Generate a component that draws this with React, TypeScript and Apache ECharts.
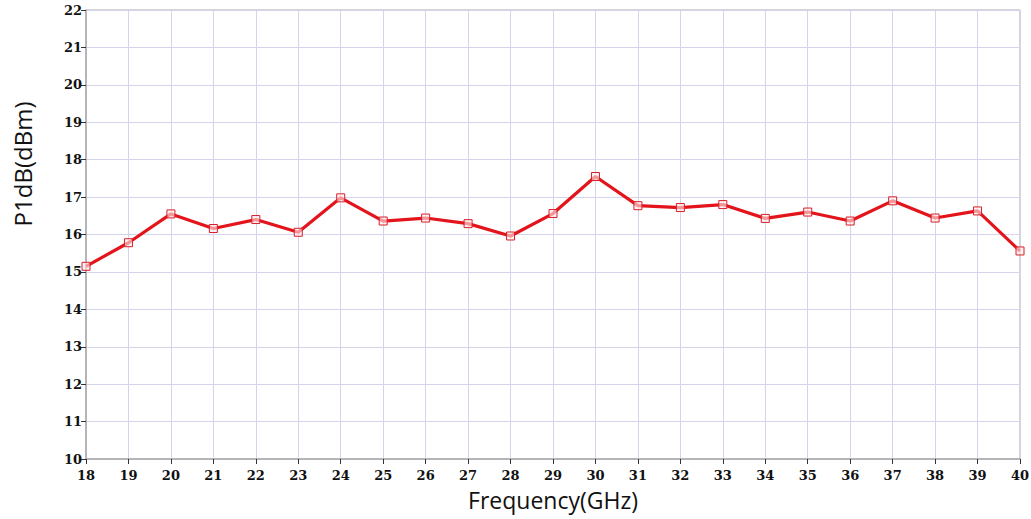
import React, { useEffect, useRef } from "react";
import * as echarts from "echarts";

const frequencies = [18, 19, 20, 21, 22, 23, 24, 25, 26, 27, 28, 29, 30, 31, 32, 33, 34, 35, 36, 37, 38, 39, 40];
const p1db = [15.15, 15.78, 16.55, 16.16, 16.4, 16.06, 16.98, 16.36, 16.44, 16.29, 15.96, 16.56, 17.55, 16.77, 16.72, 16.8, 16.43, 16.6, 16.36, 16.9, 16.44, 16.63, 15.56];

export default function App() {
  const ref = useRef<HTMLDivElement>(null);
  useEffect(() => {
    if (!ref.current) return;
    const chart = echarts.init(ref.current, null, { renderer: "svg" });
    const tickFont = { fontFamily: "DejaVu Serif", fontWeight: "bold" as const, fontSize: 13, color: "#111" };
    chart.setOption({
      animation: false,
      backgroundColor: "#fff",
      grid: {
        left: 86,
        right: 11,
        top: 10,
        bottom: 60,
        show: true,
        borderColor: "#aaa",
        borderWidth: 1,
        containLabel: false,
        outerBoundsMode: "none",
      },
      xAxis: {
        type: "value",
        min: 18,
        max: 40,
        interval: 1,
        name: "Frequency(GHz)",
        nameLocation: "middle",
        nameGap: 29,
        nameTextStyle: { fontFamily: "Open Sans", fontSize: 23, color: "#111" },
        axisLine: { show: true, lineStyle: { color: "#aaa", width: 1.5 } },
        axisTick: { show: true, length: 5, lineStyle: { color: "#333" } },
        axisLabel: { ...tickFont, margin: 10 },
        splitLine: { show: true, lineStyle: { color: "#d4d4ec", width: 1 } },
      },
      yAxis: {
        type: "value",
        min: 10,
        max: 22,
        interval: 1,
        axisLine: { show: true, lineStyle: { color: "#aaa", width: 1.5 } },
        axisTick: { show: true, length: 5, inside: false, lineStyle: { color: "#333" } },
        axisLabel: { ...tickFont, margin: 4 },
        splitLine: { show: true, lineStyle: { color: "#d4d4ec", width: 1 } },
      },
      graphic: [
        {
          type: "text",
          x: 22,
          y: 164,
          rotation: Math.PI / 2,
          style: {
            text: "P1dB(dBm)",
            fontFamily: "Open Sans",
            fontSize: 24,
            fill: "#111",
            align: "center",
            verticalAlign: "middle",
          },
        },
      ],
      series: [
        {
          type: "line",
          data: frequencies.map((f, i) => [f, p1db[i]]),
          symbol: "rect",
          symbolSize: 8,
          showAllSymbol: true,
          lineStyle: { color: "#e3141b", width: 3.2 },
          itemStyle: { color: "rgba(255,235,235,0.6)", borderColor: "#d81e28", borderWidth: 1 },
          clip: false,
        },
      ],
    });
    return () => chart.dispose();
  }, []);
  return <div ref={ref} style={{ position: "absolute", left: 0, top: 0, width: 1031, height: 519 }} />;
}
